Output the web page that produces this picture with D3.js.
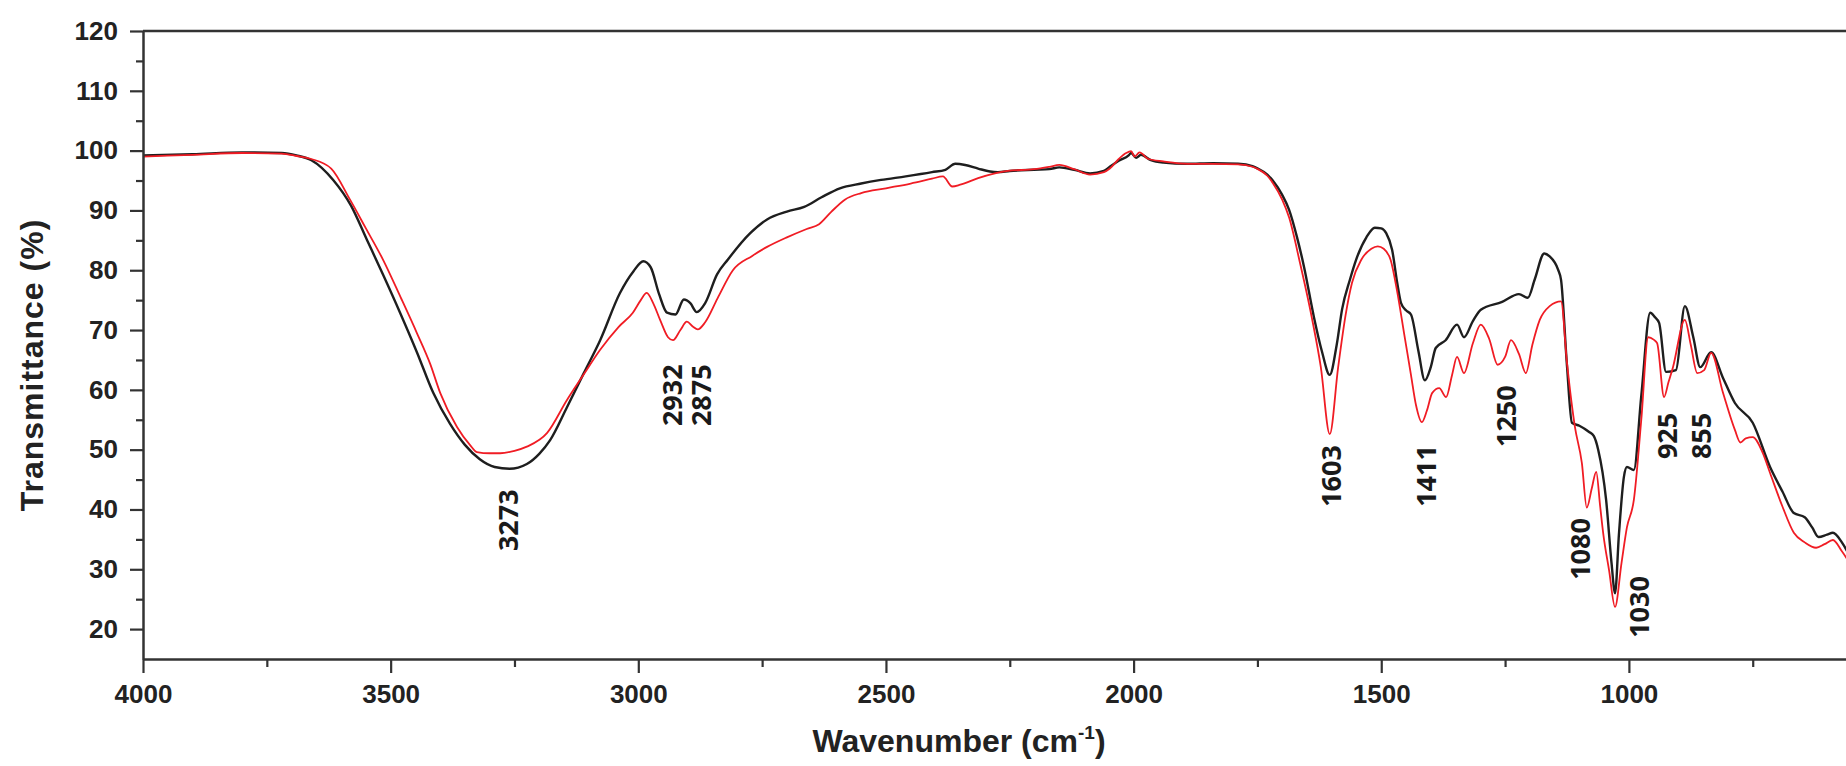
<!DOCTYPE html>
<html>
<head>
<meta charset="utf-8">
<script src="https://cdn.jsdelivr.net/npm/d3@7"></script>
<style>
  body { margin: 0; background: #fff; }
  svg { display: block; }
</style>
</head>
<body>
<div id="chart"></div>
<script>
// FTIR spectra
const blackWn = [4000, 3900, 3800, 3720, 3690, 3660, 3616, 3580, 3548, 3515, 3481, 3447, 3414, 3380, 3350, 3320, 3290, 3260, 3225, 3200, 3178, 3144, 3110, 3077, 3037, 3010, 2990, 2975, 2958, 2942, 2925, 2908, 2895, 2882, 2865, 2841, 2819, 2774, 2740, 2700, 2665, 2630, 2593, 2550, 2510, 2460, 2407, 2380, 2360, 2340, 2314, 2290, 2274, 2250, 2201, 2170, 2150, 2120, 2088, 2060, 2048, 2030, 2010, 2005, 1995, 1985, 1965, 1940, 1892, 1840, 1789, 1760, 1749, 1730, 1719, 1700, 1686, 1670, 1656, 1636, 1620, 1604, 1590, 1579, 1563, 1551, 1530, 1513, 1500, 1490, 1478, 1468, 1460, 1450, 1440, 1425, 1412, 1400, 1390, 1370, 1347, 1333, 1315, 1299, 1256, 1222, 1204, 1190, 1171, 1160, 1143, 1137, 1125, 1115, 1100, 1081, 1071, 1062, 1046, 1035, 1028, 1020, 1010, 1004, 990, 975, 957, 948, 939, 925, 905, 887, 870, 856, 834, 810, 786, 750, 715, 690, 667, 645, 630, 617, 600, 588, 570, 550];
const blackT = [99.2, 99.4, 99.7, 99.6, 99.2, 98.4, 95.1, 90.8, 85.1, 79.2, 72.9, 66.3, 59.5, 54.3, 50.8, 48.4, 47.1, 46.8, 47.6, 49.3, 51.6, 57.1, 62.8, 68.3, 76.2, 79.8, 81.5, 80.5, 76.0, 72.9, 72.6, 75.1, 74.5, 73.0, 74.5, 79.3, 81.8, 86.2, 88.5, 89.8, 90.6, 92.2, 93.7, 94.5, 95.1, 95.7, 96.4, 96.8, 97.8, 97.6, 97.0, 96.5, 96.4, 96.6, 96.8, 96.9, 97.2, 96.8, 96.2, 96.6, 97.3, 98.3, 99.2, 99.6, 98.8, 99.3, 98.4, 98.0, 97.8, 97.9, 97.8, 97.4, 97.0, 96.0, 95.0, 92.6, 90.1, 85.5, 80.6, 72.2, 66.5, 62.5, 67.5, 73.5, 78.5, 81.7, 85.5, 87.1, 87.0, 86.2, 83.4, 78.0, 74.5, 73.3, 72.6, 66.5, 61.6, 63.8, 67.0, 68.3, 70.9, 68.8, 71.5, 73.4, 74.7, 76.0, 75.4, 78.5, 82.8, 82.3, 80.1, 78.4, 64.0, 54.5, 54.0, 53.0, 52.3, 50.0, 41.6, 31.0, 26.0, 36.0, 45.5, 47.1, 46.6, 59.0, 72.9, 72.2, 71.2, 63.0, 63.3, 74.0, 68.8, 63.8, 66.3, 62.0, 57.8, 54.5, 47.1, 43.0, 39.4, 38.7, 37.0, 35.4, 35.8, 36.1, 34.5, 31.5];

const redWn = [4000, 3900, 3800, 3720, 3690, 3660, 3620, 3582, 3550, 3515, 3480, 3447, 3420, 3400, 3366, 3340, 3326, 3300, 3279, 3250, 3225, 3184, 3144, 3110, 3077, 3040, 3011, 2995, 2983, 2970, 2956, 2940, 2930, 2915, 2902, 2890, 2880, 2865, 2840, 2809, 2770, 2740, 2700, 2660, 2635, 2610, 2583, 2550, 2500, 2450, 2407, 2385, 2366, 2350, 2314, 2280, 2254, 2201, 2170, 2150, 2120, 2088, 2060, 2048, 2030, 2015, 2005, 1998, 1988, 1970, 1940, 1892, 1840, 1789, 1760, 1749, 1730, 1719, 1700, 1686, 1664, 1640, 1622, 1604, 1587, 1572, 1559, 1540, 1520, 1507, 1495, 1481, 1468, 1454, 1440, 1430, 1418, 1408, 1397, 1383, 1369, 1357, 1347, 1333, 1315, 1299, 1282, 1265, 1250, 1238, 1222, 1208, 1195, 1180, 1160, 1137, 1125, 1109, 1095, 1085, 1075, 1066, 1058, 1052, 1040, 1028, 1015, 1004, 990, 975, 961, 950, 943, 929, 920, 911, 887, 875, 862, 848, 834, 810, 786, 775, 764, 750, 730, 715, 690, 667, 645, 622, 605, 588, 570, 550];
const redT = [99.0, 99.3, 99.6, 99.5, 99.1, 98.6, 97.0, 91.8, 87.0, 81.7, 75.5, 69.5, 64.3, 59.5, 53.8, 50.8, 49.6, 49.4, 49.4, 49.8, 50.5, 52.8, 58.3, 62.6, 66.7, 70.5, 72.9, 75.0, 76.2, 74.5, 71.7, 68.8, 68.3, 70.0, 71.4, 70.6, 70.1, 71.3, 75.3, 80.0, 82.4, 83.9, 85.5, 86.9, 87.7, 89.8, 91.8, 92.9, 93.7, 94.5, 95.3, 95.7, 94.0, 94.3, 95.4, 96.2, 96.6, 96.9, 97.3, 97.6, 96.9, 96.0, 96.4, 97.0, 98.6, 99.6, 99.9, 99.0, 99.7, 98.6, 98.2, 97.8, 97.8, 97.7, 97.3, 96.9, 95.8, 94.6, 91.8, 88.8, 81.2, 72.0, 63.8, 52.6, 63.8, 72.5, 77.9, 81.8, 83.6, 84.0, 83.6, 81.7, 76.5, 69.5, 62.5, 57.5, 54.6, 56.5, 59.5, 60.3, 58.8, 62.5, 65.5, 62.8, 67.8, 70.9, 68.5, 64.2, 65.5, 68.3, 66.0, 62.8, 67.5, 71.7, 74.0, 74.8, 64.5, 53.8, 47.8, 40.3, 43.5, 46.3, 40.5, 36.1, 29.8, 23.7, 31.0, 37.0, 41.6, 55.0, 68.8, 68.4, 67.8, 58.8, 61.3, 63.8, 71.7, 67.5, 62.8, 63.3, 66.2, 59.5, 53.3, 51.2, 51.9, 52.1, 49.5, 46.1, 40.5, 36.1, 34.5, 33.6, 34.2, 34.9, 33.0, 30.5];

// peak annotations: wavenumber, label, and the transmittance level the label sits at
const peakWn = [3273, 2932, 2875, 1603, 1411, 1250, 1080, 1030, 925, 855];
const peakText = ["3273", "2932", "2875", "1603", "1411", "1250", "1080", "1030", "925", "855"];
const peakLevel = [38.2, 59.1, 59.1, 45.6, 45.6, 55.6, 33.4, 23.7, 52.3, 52.3];

const xMajor = [4000, 3500, 3000, 2500, 2000, 1500, 1000];
const xMinor = [3750, 3250, 2750, 2250, 1750, 1250, 750];
const yMajor = [20, 30, 40, 50, 60, 70, 80, 90, 100, 110, 120];
const yMinor = [25, 35, 45, 55, 65, 75, 85, 95, 105, 115];

const width = 1846;
const height = 766;
const mLeft = 143, mTop = 31, mBottom = 659;

// the original figure is cropped on the right, so the axis runs past the edge
const x = d3.scaleLinear().domain([4000, 500]).range([mLeft, mLeft + 3500 * 0.4953]);
const y = d3.scaleLinear().domain([15, 120]).range([mBottom, mTop]);

const svg = d3.select("#chart").append("svg")
    .attr("width", width)
    .attr("height", height)
    .attr("viewBox", [0, 0, width, height]);

svg.append("defs").append("clipPath")
    .attr("id", "plot")
  .append("rect")
    .attr("x", mLeft)
    .attr("y", mTop - 5)
    .attr("width", width - mLeft)
    .attr("height", mBottom - mTop + 5);

const line = d3.line()
    .x(d => x(d[0]))
    .y(d => y(d[1]))
    .curve(d3.curveMonotoneX);

const plot = svg.append("g").attr("clip-path", "url(#plot)");

plot.append("path")
    .datum(blackWn.map((w, i) => [w, blackT[i]]))
    .attr("fill", "none")
    .attr("stroke", "#1e1e1e")
    .attr("stroke-width", 2.4)
    .attr("stroke-linejoin", "round")
    .attr("d", line);

plot.append("path")
    .datum(redWn.map((w, i) => [w, redT[i]]))
    .attr("fill", "none")
    .attr("stroke", "#f01c24")
    .attr("stroke-width", 1.8)
    .attr("stroke-linejoin", "round")
    .attr("d", line);

// top frame line
svg.append("line")
    .attr("x1", mLeft).attr("x2", width)
    .attr("y1", mTop).attr("y2", mTop)
    .attr("stroke", "#333")
    .attr("stroke-width", 2.5);

// axes: major ticks with labels, minor ticks without
svg.append("g")
    .attr("transform", `translate(0,${mBottom})`)
    .call(d3.axisBottom(x).tickValues(xMajor).tickSize(14).tickSizeOuter(0).tickPadding(12).tickFormat(d3.format("d")));
svg.append("g")
    .attr("transform", `translate(0,${mBottom})`)
    .call(d3.axisBottom(x).tickValues(xMinor).tickSize(8).tickSizeOuter(0).tickFormat(""))
    .call(g => g.select(".domain").remove());

svg.append("g")
    .attr("transform", `translate(${mLeft},0)`)
    .call(d3.axisLeft(y).tickValues(yMajor).tickSize(13).tickSizeOuter(0).tickPadding(12));
svg.append("g")
    .attr("transform", `translate(${mLeft},0)`)
    .call(d3.axisLeft(y).tickValues(yMinor).tickSize(7).tickSizeOuter(0).tickFormat(""))
    .call(g => g.select(".domain").remove());

svg.selectAll(".domain").attr("stroke", "#333").attr("stroke-width", 2.5);
svg.selectAll(".tick line").attr("stroke", "#333").attr("stroke-width", 2.2);
svg.selectAll(".tick text")
    .attr("fill", "#222")
    .style("font-family", "'Liberation Sans', Arial, sans-serif")
    .style("font-weight", "bold")
    .style("font-size", "26px");

// axis titles
const xTitle = svg.append("text")
    .attr("x", 959)
    .attr("y", 752)
    .attr("text-anchor", "middle")
    .attr("fill", "#222")
    .style("font-family", "'Liberation Sans', Arial, sans-serif")
    .style("font-weight", "bold")
    .style("font-size", "32px");
xTitle.append("tspan").text("Wavenumber (cm");
xTitle.append("tspan").text("-1").attr("dy", -13).style("font-size", "19px");
xTitle.append("tspan").text(")").attr("dy", 13);

svg.append("text")
    .attr("transform", "translate(43,365) rotate(-90)")
    .attr("text-anchor", "middle")
    .attr("fill", "#222")
    .style("font-family", "'Liberation Sans', Arial, sans-serif")
    .style("font-weight", "bold")
    .style("font-size", "32px")
    .style("letter-spacing", "1px")
    .text("Transmittance (%)");

// peak labels, rotated; two crowded ones are nudged sideways as in the original
const nudge = {"1080": -10, "1030": 24, "3273": 4};
svg.append("g")
  .selectAll("text")
  .data(peakWn.map((w, i) => ({w, t: peakText[i], lv: peakLevel[i]})))
  .join("text")
    .attr("transform", d => `translate(${x(d.w) + (nudge[d.t] || 0)},${y(d.lv)}) rotate(-90)`)
    .attr("text-anchor", "middle")
    .attr("dominant-baseline", "central")
    .attr("fill", "#1a1a1a")
    .style("font-family", "'Open Sans', 'Noto Sans', sans-serif")
    .style("font-weight", "bold")
    .style("font-size", "27px")
    .text(d => d.t);
</script>
</body>
</html>
